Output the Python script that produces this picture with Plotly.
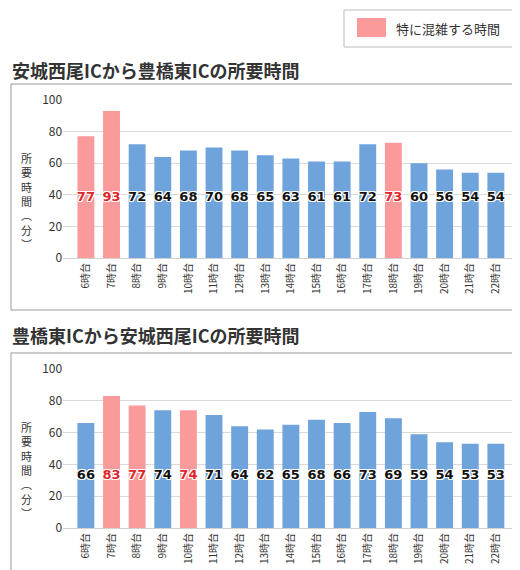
import plotly.graph_objects as go

hours = [f"{h}時台" for h in range(6, 23)]
up_vals = [77, 93, 72, 64, 68, 70, 68, 65, 63, 61, 61, 72, 73, 60, 56, 54, 54]
up_peak = ["6時台", "7時台", "18時台"]
down_vals = [66, 83, 77, 74, 74, 71, 64, 62, 65, 68, 66, 73, 69, 59, 54, 53, 53]
down_peak = ["7時台", "8時台", "10時台"]
y_ticks = [0, 20, 40, 60, 80, 100]

BLUE = "#6fa3dc"
PINK = "#fb9a9b"
FONT = "Noto Sans CJK JP"
outline = "-1px -1px 0 #fff, 1px -1px 0 #fff, -1px 1px 0 #fff, 1px 1px 0 #fff, 0 1px 0 #fff, 0 -1px 0 #fff, 1px 0 0 #fff, -1px 0 0 #fff"

fig = go.Figure()


def add_panel(vals, peak, xa, ya, label_y):
    colors = [PINK if h in peak else BLUE for h in hours]
    tcolors = ["#e0262b" if h in peak else "#111" for h in hours]
    fig.add_trace(go.Bar(x=hours, y=vals, marker=dict(color=colors, line=dict(width=0)),
                         width=0.66, xaxis=xa, yaxis=ya, hoverinfo="skip"))
    fig.add_trace(go.Scatter(x=hours, y=[label_y] * len(hours), mode="text",
                             text=[str(v) for v in vals],
                             textfont=dict(size=13, color=tcolors, family="DejaVu Sans",
                                           weight="bold", shadow=outline),
                             xaxis=xa, yaxis=ya, hoverinfo="skip"))


add_panel(up_vals, up_peak, "x", "y", 38)
add_panel(down_vals, down_peak, "x2", "y2", 33)

axis_x = dict(tickangle=-90, tickfont=dict(size=10, color="#333", family=FONT), showgrid=False,
              linecolor="#d0d0d0", showline=True, ticks="", domain=[0.106, 0.982], automargin=False)
axis_y = dict(range=[0, 100], tickvals=y_ticks, gridcolor="#d9d9d9", zeroline=False,
              tickfont=dict(size=12, color="#333", family=FONT), ticks="", automargin=False)

fig.update_layout(
    width=520, height=570, margin=dict(l=0, r=0, t=0, b=0, autoexpand=False),
    paper_bgcolor="white", plot_bgcolor="white", showlegend=False, bargap=0.3,
    xaxis=dict(axis_x, anchor="y"),
    xaxis2=dict(axis_x, anchor="y2"),
    yaxis=dict(axis_y, domain=[0.5614, 0.8386], anchor="x"),
    yaxis2=dict(axis_y, domain=[0.0877, 0.3667], anchor="x2"),
)

# panel borders and legend box
for y0, y1 in [(76, 302), (345, 569)]:
    fig.add_shape(type="rect", xref="paper", yref="paper", x0=3 / 520, x1=519 / 520,
                  y0=1 - y1 / 570, y1=1 - y0 / 570, line=dict(color="#999", width=1))
fig.add_shape(type="rect", xref="paper", yref="paper", x0=336 / 520, x1=517 / 520,
              y0=1 - 39 / 570, y1=1 - 2 / 570, line=dict(color="#bbb", width=1))
fig.add_shape(type="rect", xref="paper", yref="paper", x0=349 / 520, x1=378 / 520,
              y0=1 - 29 / 570, y1=1 - 10 / 570, fillcolor=PINK, line=dict(width=0))
fig.add_annotation(text="特に混雑する時間", xref="paper", yref="paper", x=386 / 520, y=1 - 20 / 570,
                   xanchor="left", yanchor="middle", showarrow=False,
                   font=dict(size=13, color="#333", family=FONT))

for title, ty in [("安城西尾ICから豊橋東ICの所要時間", 62), ("豊橋東ICから安城西尾ICの所要時間", 327)]:
    fig.add_annotation(text=title, xref="paper", yref="paper", x=2 / 520, y=1 - ty / 570,
                       xanchor="left", yanchor="middle", showarrow=False,
                       font=dict(size=18, color="#333", family=FONT, weight="bold"))

for cy in [193, 462]:
    fig.add_annotation(text="<br>".join(["所", "要", "時", "間", "︵", "分", "︶"]), xref="paper", yref="paper",
                       x=18 / 520, y=1 - cy / 570, xanchor="center", yanchor="middle", showarrow=False,
                       font=dict(size=11, color="#333", family=FONT))

fig.write_html("out.html")
